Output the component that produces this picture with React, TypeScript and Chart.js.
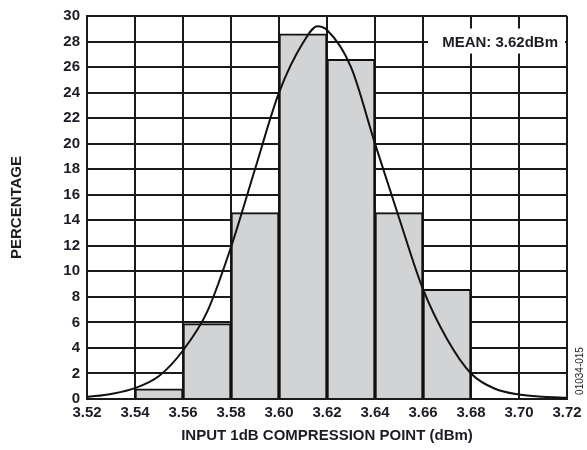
import React, { useEffect, useRef } from "react";
import { Chart, registerables } from "chart.js";

Chart.register(...registerables);

// Histogram bins (lower edges) and percentage per bin
const binEdges = [3.54, 3.56, 3.58, 3.6, 3.62, 3.64, 3.66, 3.68];
const binPercent = [0.8, 5.9, 14.6, 28.6, 26.6, 14.6, 8.6];

// Fitted normal curve
const curveX = [3.52, 3.53, 3.54, 3.55, 3.56, 3.57, 3.58, 3.59, 3.6, 3.61, 3.616, 3.62, 3.63, 3.64, 3.65, 3.66, 3.67, 3.68, 3.69, 3.7, 3.71, 3.72];
const curveY = [0.15, 0.4, 0.85, 1.8, 3.8, 6.8, 11.9, 18.0, 24.0, 27.9, 29.2, 28.9, 26.0, 20.0, 14.2, 8.6, 4.7, 2.0, 0.8, 0.35, 0.18, 0.1];

const xTicks = { min: 3.52, max: 3.72, step: 0.02 };
const yTicks = { min: 0, max: 30, step: 2 };

const meanLabel = "MEAN: 3.62dBm";
const xTitle = "INPUT 1dB COMPRESSION POINT (dBm)";
const yTitle = "PERCENTAGE";
const figureId = "01034-015";

const FONT = "'Liberation Sans', Arial, Helvetica, sans-serif";
const TEXT = "#1c1c24";
const GRID = "#1a1a1a";

export default function App() {
  const ref = useRef<HTMLCanvasElement | null>(null);

  useEffect(() => {
    if (!ref.current) return;
    const barData = binPercent.map((v, i) => ({ x: (binEdges[i] + binEdges[i + 1]) / 2, y: v }));
    const curveData = curveX.map((x, i) => ({ x, y: curveY[i] }));

    const annot = {
      id: "annot",
      afterDatasetsDraw(chart: any) {
        const { ctx, chartArea, scales } = chart;
        const y = scales.y.getPixelForValue(28);
        ctx.save();
        ctx.fillStyle = "#ffffff";
        ctx.fillRect(chartArea.left + 341, y - 13, 137, 25);
        ctx.font = `bold 15px ${FONT}`;
        ctx.fillStyle = TEXT;
        ctx.textAlign = "right";
        ctx.textBaseline = "middle";
        ctx.fillText(meanLabel, chartArea.right - 9, y + 1);
        ctx.restore();
      },
      afterDraw(chart: any) {
        const { ctx, chartArea } = chart;
        ctx.save();
        ctx.translate(chartArea.right + 13, chartArea.bottom - 28);
        ctx.rotate(-Math.PI / 2);
        ctx.font = `10px ${FONT}`;
        ctx.fillStyle = TEXT;
        ctx.textAlign = "center";
        ctx.textBaseline = "middle";
        ctx.fillText(figureId, 0, 0);
        ctx.restore();
      },
    };

    const chart = new Chart(ref.current, {
      type: "bar",
      data: {
        datasets: [
          {
            type: "line",
            data: curveData,
            borderColor: "#111111",
            borderWidth: 2,
            pointRadius: 0,
            fill: false,
            cubicInterpolationMode: "monotone",
            order: 0,
          } as any,
          {
            type: "bar",
            data: barData,
            backgroundColor: "#d2d3d5",
            borderColor: "#111111",
            borderWidth: 2,
            barPercentage: 1,
            categoryPercentage: 1,
            order: 1,
          } as any,
        ],
      },
      options: {
        responsive: false,
        animation: false,
        layout: { padding: { top: 14, right: 20, left: 0, bottom: 0 } },
        plugins: { legend: { display: false }, tooltip: { enabled: false } },
        scales: {
          x: {
            type: "linear",
            offset: false,
            min: xTicks.min,
            max: xTicks.max,
            grid: { color: GRID, lineWidth: 2, drawTicks: false, offset: false },
            border: { color: GRID, width: 2 },
            ticks: {
              stepSize: xTicks.step,
              padding: 5,
              color: TEXT,
              maxRotation: 0,
              font: { family: FONT, size: 15, weight: "bold" },
              callback: (v: any) => Number(v).toFixed(2),
            },
            title: {
              display: true,
              text: xTitle,
              color: TEXT,
              padding: { top: 0, bottom: 5 },
              font: { family: FONT, size: 15, weight: "bold" },
            },
            afterFit: (s: any) => {
              s.height = 51;
            },
          },
          y: {
            type: "linear",
            min: yTicks.min,
            max: yTicks.max,
            grid: { color: GRID, lineWidth: 2, drawTicks: false },
            border: { color: GRID, width: 2 },
            ticks: {
              stepSize: yTicks.step,
              padding: 7,
              color: TEXT,
              font: { family: FONT, size: 15, weight: "bold" },
            },
            title: {
              display: true,
              text: yTitle,
              color: TEXT,
              padding: { top: 8, bottom: 0 },
              font: { family: FONT, size: 15, weight: "bold" },
            },
            afterFit: (s: any) => {
              s.width = 87;
            },
          },
        },
      },
      plugins: [annot],
    } as any);
    return () => chart.destroy();
  }, []);

  return (
    <div style={{ position: "absolute", left: 0, top: 0, width: 587, height: 450, background: "#fff" }}>
      <canvas ref={ref} width={587} height={450} style={{ width: 587, height: 450 }} />
    </div>
  );
}
